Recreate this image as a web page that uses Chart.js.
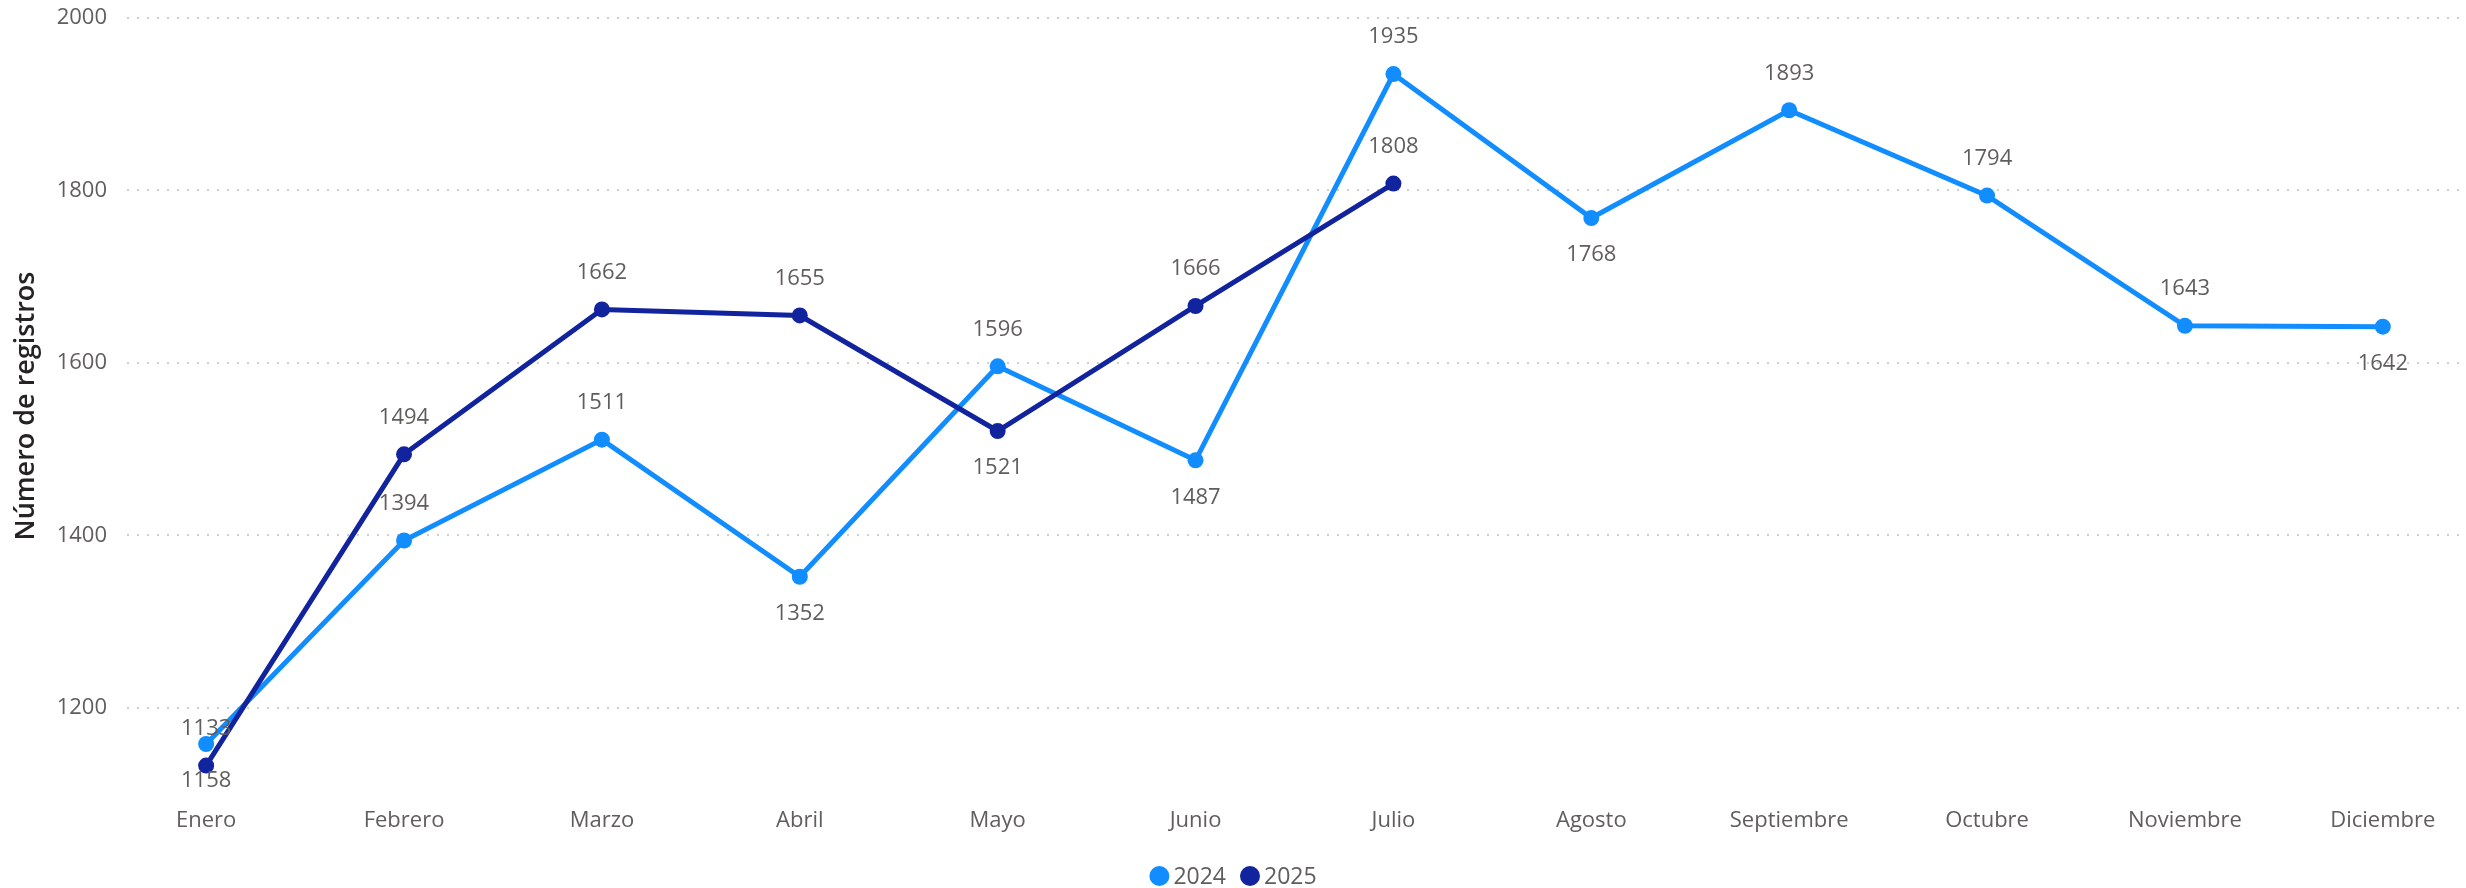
<!DOCTYPE html>
<html>
<head>
<meta charset="utf-8">
<script src="https://cdn.jsdelivr.net/npm/chart.js@4.4.1/dist/chart.umd.min.js"></script>
<style>
html,body{margin:0;padding:0;background:#fff;}
#wrap{position:relative;width:2466px;height:888px;}
</style>
</head>
<body>
<div id="wrap"><canvas id="c" width="2466" height="888"></canvas></div>
<script>
const months = ['Enero','Febrero','Marzo','Abril','Mayo','Junio','Julio','Agosto','Septiembre','Octubre','Noviembre','Diciembre'];
const values2024 = [1158,1394,1511,1352,1596,1487,1935,1768,1893,1794,1643,1642];
const values2025 = [1133,1494,1662,1655,1521,1666,1808];
const labelPos2024 = ['below','above','above','below','above','below','above','below','above','above','above','below'];
const labelPos2025 = ['above','above','above','above','below','above','above'];
const yTicks = [1200,1400,1600,1800,2000];
const seriesNames = ['2024','2025'];

const FONT = "'Open Sans', 'Noto Sans', sans-serif";
const TEXT = '#605E5C';
const COLORS = ['#118DFF','#12239E'];

const toPts = arr => arr.map((v,i)=>({x:i,y:v}));

const labelPlugin = {
  id:'dl',
  afterDatasetsDraw(chart){
    const ctx = chart.ctx;
    ctx.save();
    ctx.font = '22px ' + FONT;
    ctx.fillStyle = TEXT;
    ctx.textAlign = 'center';
    ctx.textBaseline = 'middle';
    chart.data.datasets.forEach((ds,di)=>{
      const meta = chart.getDatasetMeta(di);
      meta.data.forEach((el,i)=>{
        const pos = ds.labelPos[i];
        const dy = pos === 'above' ? -37 : 37;
        ctx.fillText(String(ds.data[i].y), el.x, el.y + dy);
      });
    });
    ctx.restore();
  }
};

const legendPlugin = {
  id:'customLegend',
  afterDraw(chart){
    const ctx = chart.ctx;
    ctx.save();
    ctx.font = '23px ' + FONT;
    ctx.textBaseline = 'middle';
    ctx.textAlign = 'left';
    const r = 10, gap = 4, itemGap = 14;
    const items = chart.data.datasets.map(ds=>({label:ds.label, color:ds.borderColor, w: ctx.measureText(ds.label).width}));
    let total = 0;
    items.forEach((it,i)=>{ total += 2*r + gap + it.w + (i<items.length-1?itemGap:0); });
    let x = chart.width/2 - total/2;
    const cy = 876;
    items.forEach(it=>{
      ctx.fillStyle = it.color;
      ctx.beginPath(); ctx.arc(x+r, cy, r, 0, Math.PI*2); ctx.fill();
      x += 2*r + gap;
      ctx.fillStyle = TEXT;
      ctx.fillText(it.label, x, cy+1);
      x += it.w + itemGap;
    });
    ctx.restore();
  }
};

const gridDots = {
  id:'gridDots',
  beforeDatasetsDraw(chart){
    const ctx = chart.ctx, y = chart.scales.y, a = chart.chartArea;
    ctx.save();
    ctx.fillStyle = '#CFCFCF';
    yTicks.forEach(t=>{
      const py = Math.round(y.getPixelForValue(t));
      for(let x=a.left; x<=a.right; x+=10){
        ctx.fillRect(x, py-1, 2, 2);
      }
    });
    ctx.restore();
  }
};

new Chart(document.getElementById('c'), {
  type:'line',
  data:{
    datasets:[
      {label:seriesNames[0], data:toPts(values2024), labelPos:labelPos2024, borderColor:COLORS[0], backgroundColor:COLORS[0],
       borderWidth:5, pointRadius:8, pointHoverRadius:8, pointBorderWidth:0, order:1, tension:0},
      {label:seriesNames[1], data:toPts(values2025), labelPos:labelPos2025, borderColor:COLORS[1], backgroundColor:COLORS[1],
       borderWidth:5, pointRadius:8, pointHoverRadius:8, pointBorderWidth:0, order:0, tension:0}
    ]
  },
  options:{
    responsive:false,
    animation:false,
    layout:{padding:{left:0,right:8,top:18,bottom:50}},
    plugins:{
      tooltip:{enabled:false},
      legend:{display:false}
    },
    scales:{
      x:{
        type:'linear', min:-0.4, max:11.38,
        afterBuildTicks(s){ s.ticks = months.map((m,i)=>({value:i})); },
        afterFit(s){ s.height = 44; s.paddingLeft = 0; s.paddingRight = 0; },
        ticks:{autoSkip:false, maxRotation:0, callback:(v)=>months[v] ?? '', font:{family:FONT,size:22}, color:TEXT, padding:14},
        grid:{display:false, drawTicks:false},
        border:{display:false}
      },
      y:{
        min:1100, max:2000,
        afterBuildTicks(s){ s.ticks = yTicks.map(v=>({value:v})); },
        afterFit(s){ s.width = 127; s.paddingTop = 0; s.paddingBottom = 0; },
        ticks:{font:{family:FONT,size:22}, color:TEXT, padding:20, callback:(v)=>String(v)},
        grid:{display:false, drawTicks:false},
        border:{display:false},
        title:{display:true, text:'Número de registros', font:{family:FONT,size:27,weight:'600'}, color:'#252423', padding:{top:10,bottom:0}}
      }
    }
  },
  plugins:[gridDots,labelPlugin,legendPlugin]
});
</script>
</body>
</html>
